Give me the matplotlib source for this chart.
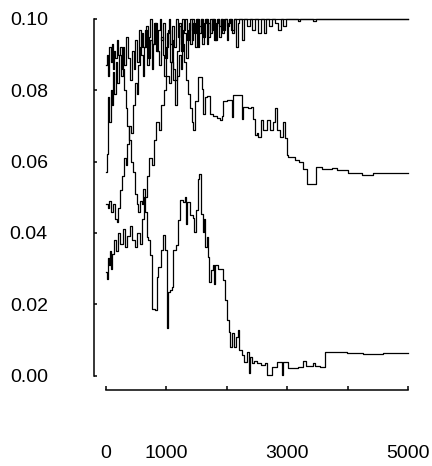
import numpy as np
import matplotlib.pyplot as plt

plt.rcParams['font.family'] = ['Liberation Sans', 'DejaVu Sans']

# running estimates for four chains (iteration, value)
chain1_x = [0, 30, 60, 90, 120, 150, 180, 210, 240, 270, 300, 330, 360, 390, 420, 450, 480, 510, 540, 570,
            600, 620, 650, 680, 710, 740, 770, 800, 830, 860, 890, 920,
            950, 980, 1010, 1040, 1070, 1100, 1130, 1160, 1190, 1220, 1250, 1280, 1310, 1340, 1370, 1400, 1430,
            1460, 1490, 1520, 1550, 1580, 1610, 1640, 1670, 1700, 1730, 1760, 1790, 1820, 1850, 1880, 1910, 1940,
            1970, 2000, 2030, 2060, 2090, 2120, 2150, 2180, 2210, 2260, 2290, 2340, 2380, 2420, 2470, 2520, 2570,
            2610, 2650, 2700, 2750, 2800, 2850, 2900, 2940, 2980, 3180, 3220, 3430, 3470, 5000]
chain1_y = [0.048, 0.047, 0.049, 0.046, 0.048, 0.044, 0.043, 0.047, 0.052, 0.056, 0.061, 0.059, 0.065, 0.070,
            0.068, 0.076, 0.082, 0.079, 0.087, 0.092,
            0.096, 0.092, 0.097, 0.087, 0.095, 0.100, 0.093, 0.099, 0.091, 0.097, 0.100, 0.094, 0.099, 0.089,
            0.096, 0.100, 0.093, 0.098, 0.092, 0.100, 0.095, 0.099, 0.091, 0.097, 0.100, 0.094, 0.099, 0.093,
            0.100, 0.096, 0.100, 0.092, 0.098, 0.100, 0.095, 0.100, 0.093, 0.099, 0.096, 0.100, 0.094, 0.099,
            0.100, 0.095, 0.100, 0.097, 0.100, 0.094, 0.099, 0.100, 0.096, 0.100, 0.092, 0.099, 0.100, 0.094,
            0.100, 0.098, 0.100, 0.097, 0.100, 0.096, 0.100, 0.096, 0.100, 0.098, 0.100, 0.099, 0.097, 0.100,
            0.098, 0.100, 0.0995, 0.100, 0.0995, 0.100, 0.100]

chain2_x = [0, 15, 30, 45, 60, 80, 100, 120, 145, 170, 195, 220, 250, 280, 310, 340, 370, 400, 430, 460, 490,
            520, 550, 580, 610, 640, 670, 700, 730, 760, 790, 820, 850, 880, 910, 940, 970, 1000, 1030, 1060,
            1090, 1120, 1150, 1180, 1210, 1240, 1270, 1300, 1330, 1360, 1390, 1420, 1449, 1476, 1531, 1586,
            1614, 1641, 1680, 1724, 1779, 1834, 1889, 1930, 1944, 2000, 2082, 2110, 2247, 2275, 2355, 2395,
            2440, 2468, 2495, 2523, 2562, 2606, 2661, 2716, 2760, 2799, 2826, 2881, 2936, 2964, 2991, 3019,
            3129, 3201, 3267, 3322, 3476, 3570, 3735, 3818, 4011, 4231, 4424, 5000]
chain2_y = [0.057, 0.062, 0.073, 0.078, 0.071, 0.080, 0.076, 0.085, 0.079, 0.088, 0.082, 0.090, 0.084, 0.092,
            0.087, 0.095, 0.089, 0.083, 0.091, 0.086, 0.094, 0.088, 0.097, 0.090, 0.084, 0.092, 0.098, 0.089,
            0.094, 0.086, 0.093, 0.099, 0.091, 0.087, 0.095, 0.090, 0.084, 0.092, 0.097, 0.088, 0.094, 0.083,
            0.076, 0.084, 0.090, 0.086, 0.093, 0.088, 0.083, 0.079, 0.075, 0.071, 0.0688, 0.077, 0.0837, 0.0804,
            0.0734, 0.0781, 0.0785, 0.0734, 0.0729, 0.0722, 0.0718, 0.0729, 0.0771, 0.0773, 0.0725, 0.0787,
            0.0720, 0.0753, 0.0749, 0.0753, 0.0720, 0.0674, 0.0680, 0.0669, 0.0716, 0.0690, 0.0716, 0.0688,
            0.0710, 0.0751, 0.0690, 0.0669, 0.0711, 0.0665, 0.0618, 0.0613, 0.0604, 0.0599, 0.0580, 0.0538,
            0.0585, 0.0579, 0.0582, 0.0576, 0.0569, 0.0562, 0.0569, 0.0569]

chain3_x = [0, 20, 40, 60, 80, 100, 120, 140, 160, 185, 210, 240, 270, 300, 330, 360, 390, 420, 450, 480,
            510, 540, 570, 595, 622, 650, 677, 705, 732, 760,
            815, 842, 870, 909, 953, 986, 1008, 1030, 1063, 1096, 1118, 1162, 1195, 1228, 1283, 1311, 1327,
            1349, 1393, 1438, 1460, 1493, 1526, 1548, 1570, 1603, 1625, 1647, 1669, 1691, 1713, 1735, 1768,
            1790, 1807, 1862, 1945, 1972, 2000, 2033, 2055, 2088, 2121, 2154, 2181, 2209, 2248, 2286, 2330,
            2363, 2385, 2413, 2451, 2495, 2562, 2633, 2661, 2744, 2826, 2909, 2936, 3019, 3184, 3267, 3311,
            3432, 3460, 3543, 3625, 3846, 3983, 4259, 4589, 5000]
chain3_y = [0.087, 0.090, 0.084, 0.092, 0.088, 0.093, 0.086, 0.091, 0.089, 0.094, 0.090, 0.092, 0.086, 0.080,
            0.075, 0.070, 0.066, 0.060, 0.057, 0.051, 0.048, 0.046, 0.049, 0.048, 0.0524, 0.0459, 0.0389,
            0.0380, 0.0337, 0.0188, 0.0185, 0.0277, 0.0305, 0.0351, 0.0393,
            0.0351, 0.0132, 0.0235, 0.0239, 0.0249, 0.0351, 0.0365, 0.0435, 0.0491, 0.0487, 0.0500, 0.0426,
            0.0487, 0.0450, 0.0441, 0.0403, 0.0464, 0.0552, 0.0566, 0.0454, 0.0403, 0.0440, 0.0360, 0.0389,
            0.0333, 0.0263, 0.0296, 0.0310, 0.0258, 0.0310, 0.0300, 0.0268, 0.0211, 0.0155, 0.0123, 0.0081,
            0.0118, 0.0081, 0.0109, 0.0127, 0.0071, 0.0057, 0.0039, 0.0067, 0.0006, 0.0053, 0.0034, 0.0040,
            0.0036, 0.0030, 0.0034, 0.0002, 0.0025, 0.0039, 0.0002, 0.0039, 0.0020, 0.0024, 0.0042, 0.0027,
            0.0034, 0.0027, 0.0024, 0.0065, 0.0067, 0.0064, 0.0060, 0.0064, 0.0064]

chain4_x = [0, 15, 30, 50, 70, 90, 110, 140, 170, 200, 240, 280, 320, 360, 400, 440, 480, 520, 560, 600,
            640, 680, 720, 760, 800, 840, 880, 920, 960, 1000, 1040, 1080, 1120, 1150,
            1180, 1210, 1240, 1270, 1300, 1330, 1360, 1390, 1420, 1450,
            1480, 1510, 1540, 1570, 1600, 1630, 1660, 1690, 1720, 1750, 1780, 1810, 1840, 1870, 1900, 1930,
            1960, 2000, 2040, 2080, 2120, 5000]
chain4_y = [0.029, 0.027, 0.033, 0.031, 0.035, 0.030, 0.034, 0.038, 0.035, 0.040, 0.037, 0.041, 0.036, 0.039,
            0.042, 0.038, 0.036, 0.040, 0.037, 0.044, 0.050, 0.056, 0.061, 0.059, 0.066, 0.071, 0.069, 0.076,
            0.080, 0.084, 0.082, 0.088, 0.086, 0.083,
            0.091, 0.098, 0.093, 0.100, 0.096, 0.089, 0.097, 0.100,
            0.094, 0.099, 0.092, 0.100, 0.096, 0.100, 0.093, 0.099, 0.100, 0.095, 0.100, 0.097, 0.100, 0.094,
            0.100, 0.098, 0.100, 0.096, 0.100, 0.098, 0.100, 0.097, 0.100, 0.100]

x_ticks = [0, 1000, 2000, 3000, 4000, 5000]
x_tick_labels = ["0", "1000", "", "3000", "", "5000"]
y_ticks = [0.00, 0.02, 0.04, 0.06, 0.08, 0.10]
y_tick_labels = ["0.00", "0.02", "0.04", "0.06", "0.08", "0.10"]

fig = plt.figure(figsize=(4.32, 4.66), dpi=100)
ax = fig.add_axes([0.2167, 0.1635, 0.7558, 0.8264])

for xs, ys in [(chain1_x, chain1_y), (chain2_x, chain2_y), (chain3_x, chain3_y), (chain4_x, chain4_y)]:
    ax.step(xs, ys, where='post', color='black', lw=0.9)

ax.set_xlim(-200, 5200)
ax.set_ylim(-0.004, 0.104)

# detached axes, lines only between the outer ticks
for side in ['top', 'right']:
    ax.spines[side].set_visible(False)
ax.spines['left'].set_bounds(0, 0.10)
ax.spines['bottom'].set_bounds(0, 5000)
ax.spines['left'].set_linewidth(1.1)
ax.spines['bottom'].set_linewidth(1.1)

ax.set_xticks(x_ticks)
ax.set_xticklabels(x_tick_labels)
ax.set_yticks(y_ticks)
ax.set_yticklabels(y_tick_labels)
ax.tick_params(axis='x', direction='in', length=3, width=1.1, pad=40, labelsize=14)
ax.tick_params(axis='y', direction='in', length=2.5, width=1.1, pad=33, labelsize=14)

fig.savefig('out.png', dpi=100)
